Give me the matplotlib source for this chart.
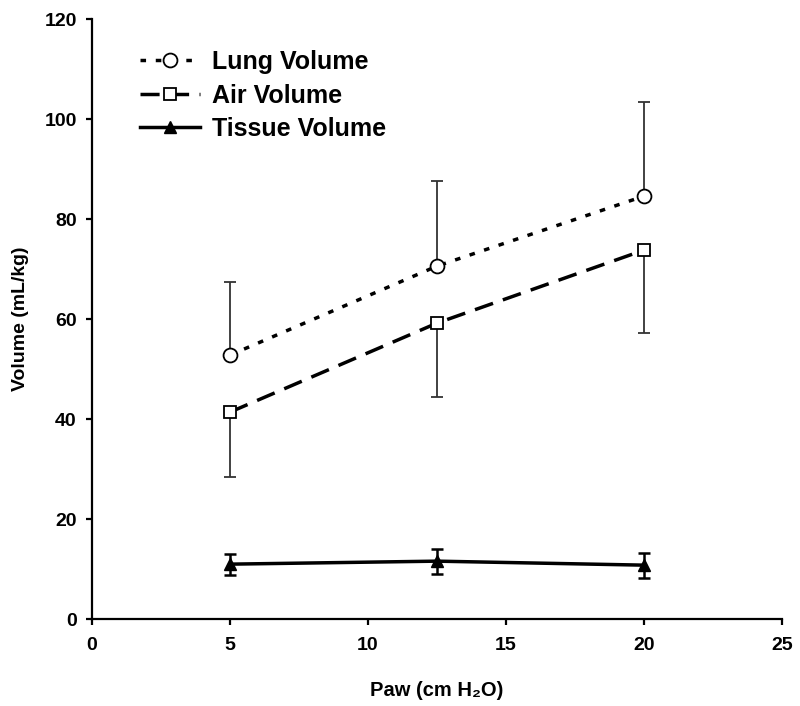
import numpy as np
import matplotlib
matplotlib.use("Agg")
import matplotlib.pyplot as plt

plt.rcParams['font.family'] = ['Liberation Sans', 'DejaVu Sans']
plt.rcParams['font.weight'] = 'bold'

paw = [5, 12.5, 20]
lung = [52.8, 70.6, 84.6]
lung_err = [14.6, 17.0, 18.8]      # upward only
air = [41.4, 59.2, 73.8]
air_err = [13.0, 14.8, 16.6]       # downward only
tissue = [11.0, 11.6, 10.8]
tissue_err = [2.1, 2.5, 2.5]

fig = plt.figure(figsize=(8, 7.06), dpi=100)
ax = fig.add_axes([0.115, 0.123, 0.8625, 0.85])

ax.errorbar(paw, lung, yerr=[np.zeros(3), lung_err], fmt='none', ecolor='#333333',
            elinewidth=1.3, capsize=4.5, capthick=1.3)
ax.errorbar(paw, air, yerr=[air_err, np.zeros(3)], fmt='none', ecolor='#333333',
            elinewidth=1.3, capsize=4.5, capthick=1.3)
ax.errorbar(paw, tissue, yerr=tissue_err, fmt='none', ecolor='black',
            elinewidth=1.8, capsize=4, capthick=1.8)

ax.plot(paw, lung, linestyle=(0, (1.6, 2.8)), color='black', lw=2.5,
        marker='o', ms=10, mfc='white', mec='black', mew=1.3, label='Lung Volume')
ax.plot(paw, air, linestyle=(0, (5.5, 3)), color='black', lw=2.5,
        marker='s', ms=8, mfc='white', mec='black', mew=1.3, label='Air Volume')
ax.plot(paw, tissue, linestyle='-', color='black', lw=2.5,
        marker='^', ms=9, mfc='black', mec='black', label='Tissue Volume')

ax.set_xlim(0, 25)
ax.set_ylim(0, 120)
ax.set_xticks([0, 5, 10, 15, 20, 25])
ax.set_yticks(range(0, 121, 20))
ax.spines['top'].set_visible(False)
ax.spines['right'].set_visible(False)
ax.spines['left'].set_linewidth(1.6)
ax.spines['bottom'].set_linewidth(1.6)
ax.tick_params(direction='out', length=4, width=1.6, labelsize=14, pad=7)
ax.tick_params(axis='x', pad=9)
for lab in ax.get_xticklabels() + ax.get_yticklabels():
    lab.set_fontweight('bold')

ax.set_xlabel('Paw (cm H\u2082O)', fontsize=14.5, fontweight='bold', labelpad=19)
ax.set_ylabel('Volume (mL/kg)', fontsize=14, fontweight='bold', labelpad=11)

leg = ax.legend(loc='upper left', bbox_to_anchor=(0.055, 0.965), frameon=False,
                prop={'size': 18, 'weight': 'bold'}, handlelength=2.4,
                handletextpad=0.5, labelspacing=0.38, borderaxespad=0)

fig.savefig('out.png', dpi=100)
